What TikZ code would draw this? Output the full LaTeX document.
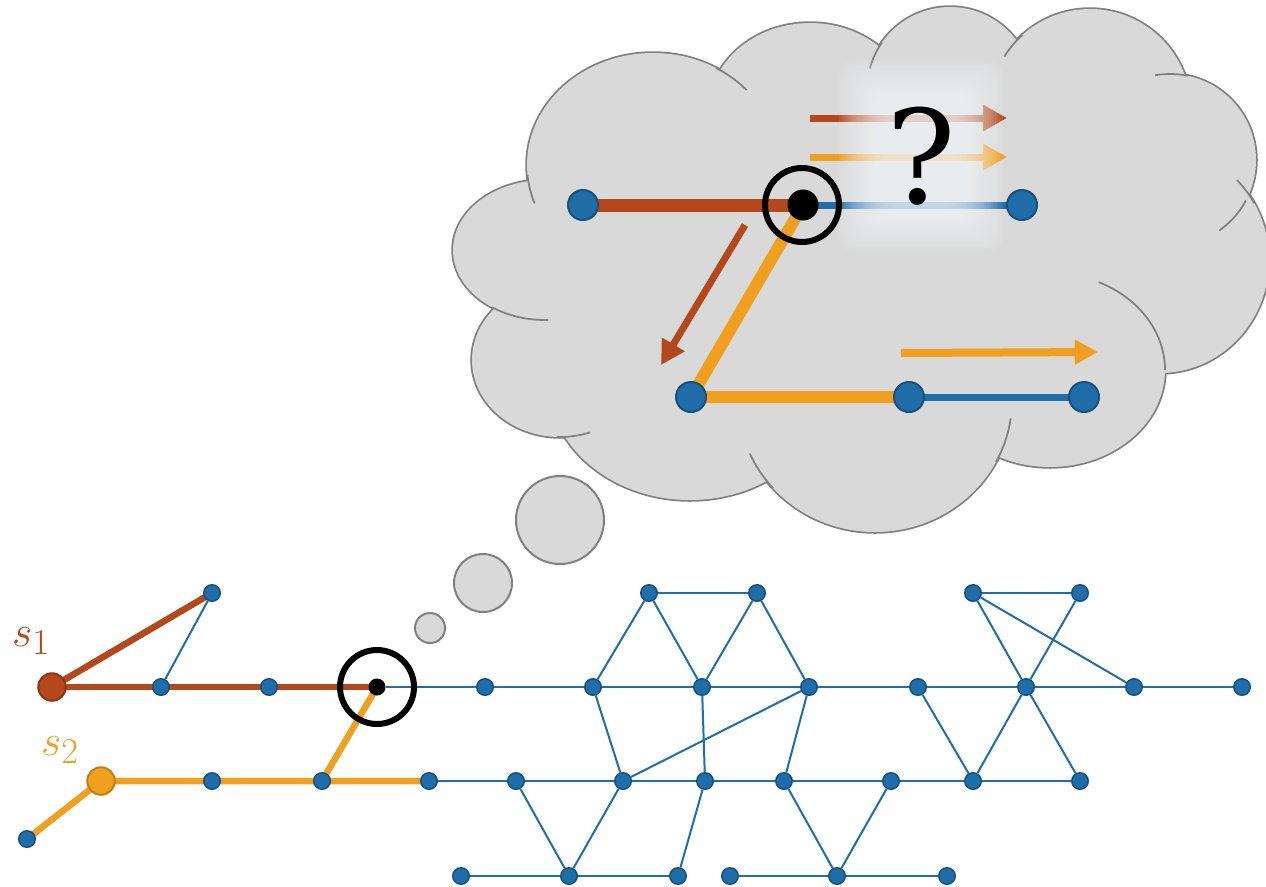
\documentclass[tikz,border=0pt]{standalone}
\usepackage{fontspec}
\newfontfamily\qfont{DejaVu Serif}
\usetikzlibrary{arrows.meta}
\definecolor{nblue}{HTML}{1F6EAA}
\definecolor{nedge}{HTML}{16507E}
\definecolor{redc}{HTML}{B5481A}
\definecolor{rededge}{HTML}{8C3512}
\definecolor{orc}{HTML}{F0A01E}
\definecolor{oredge}{HTML}{C27E14}
\definecolor{cloudc}{HTML}{D9D9D9}
\definecolor{cloudedge}{HTML}{808080}
\definecolor{glowc}{HTML}{F6F9FC}
\pgfdeclarelayer{cloudL}\pgfdeclarelayer{edgeL}\pgfdeclarelayer{glowL}
\pgfsetlayers{cloudL,edgeL,glowL,main}
\begin{document}
\begin{tikzpicture}[x=0.02cm,y=-0.02cm,
  vb/.style={circle, fill=nblue, draw=nedge, line width=0.03cm, minimum size=0.33cm, inner sep=0pt},
  vbig/.style={circle, fill=nblue, draw=nedge, line width=0.04cm, minimum size=0.6cm, inner sep=0pt},
  vred/.style={circle, fill=redc, draw=rededge, line width=0.04cm, minimum size=0.55cm, inner sep=0pt},
  vor/.style={circle, fill=orc, draw=oredge, line width=0.04cm, minimum size=0.55cm, inner sep=0pt},
  vblack/.style={circle, fill=black, minimum size=#1, inner sep=0pt},
  ring/.style={circle, draw=black, line width=0.12cm, minimum size=1.48cm, inner sep=0pt},
  thin/.style={nblue, line width=0.04cm},
  redpath/.style={redc, line width=0.13cm, line join=round},
  orpath/.style={orc, line width=0.13cm, line join=round},
  bubble/.style={fill=cloudc, draw=cloudedge, line width=0.04cm},
  crease/.style={cloudedge, line width=0.035cm},
]
\useasboundingbox (0,0) rectangle (1266,886);

% ---------------- bottom graph nodes
\node[vred] (s1) at (52,687) {};
\node[vor] (s2) at (101,781) {};
\node[vb] (a) at (212,593) {};
\node[vb] (b) at (161,687) {};
\node[vb] (c) at (269,687) {};
\node[vblack=0.34cm] (k) at (377,687) {};
\node[ring] (kr) at (377,687) {};
\node[vb] (d) at (27,839) {};
\node[vb] (e) at (212,781) {};
\node[vb] (f) at (322,781) {};
\node[vb] (g) at (429,781) {};
\node[vb] (n1) at (485,687) {};
\node[vb] (n2) at (593,687) {};
\node[vb] (n3) at (702,687) {};
\node[vb] (n4) at (809,687) {};
\node[vb] (n5) at (918,687) {};
\node[vb] (n6) at (1026,687) {};
\node[vb] (n7) at (1134,687) {};
\node[vb] (n8) at (1242,687) {};
\node[vb] (t1) at (649,593) {};
\node[vb] (t2) at (757,593) {};
\node[vb] (t3) at (973,593) {};
\node[vb] (t4) at (1080,593) {};
\node[vb] (m1) at (516,781) {};
\node[vb] (m2) at (623,781) {};
\node[vb] (m3) at (705,781) {};
\node[vb] (m4) at (784,781) {};
\node[vb] (m5) at (891,781) {};
\node[vb] (m6) at (973,781) {};
\node[vb] (m7) at (1080,781) {};
\node[vb] (u1) at (461,876) {};
\node[vb] (u2) at (569,876) {};
\node[vb] (u3) at (678,876) {};
\node[vb] (u4) at (730,876) {};
\node[vb] (u5) at (837,876) {};
\node[vb] (u6) at (947,876) {};

\node[text=redc, font=\fontsize{28}{32}\selectfont] (l1) at (31,641) {$s_1$};
\node[text=orc, font=\fontsize{28}{32}\selectfont] (l2) at (60,750) {$s_2$};

% ---------------- cloud nodes
\node[vbig] (cL) at (583,205) {};
\node[vblack=0.62cm] (cK) at (803,205) {};
\node[ring] (cKr) at (802,205) {};
\node[vbig] (cR) at (1022,205) {};
\node[vbig] (cA) at (691,397) {};
\node[vbig] (cB) at (909,397) {};
\node[vbig] (cC) at (1084,397) {};
\node[font=\qfont\fontsize{74}{76}\selectfont, inner sep=0pt] (q) at (921,156) {?};

\coordinate (fr1) at (810,118); \coordinate (fr2) at (1007,118);
\coordinate (fo1) at (810,157); \coordinate (fo2) at (1007,157);
\coordinate (ra1) at (745,225); \coordinate (ra2) at (661,365);
\coordinate (oa1) at (901,353); \coordinate (oa2) at (1098,352);

% ---------------- cloud shape
\begin{pgfonlayer}{cloudL}
\fill[white] (0,0) rectangle (1266,886);
\begin{scope}
\clip (0,0) rectangle (1266,886);
\foreach \cx/\cy/\rx/\ry in {545/250/92/70, 653/165/126/112, 810/110/101/87, 950/90/83/83, 1090/110/101/101, 1170/160/86/86, 1160/260/109/113, 1050/370/115/97, 875/400/137/132, 690/380/142/120, 560/360/88/77}
  \draw[cloudedge, line width=0.07cm] (\cx,\cy) ellipse[x radius=\rx, y radius=\ry];
\foreach \cx/\cy/\rx/\ry in {545/250/92/70, 653/165/126/112, 810/110/101/87, 950/90/83/83, 1090/110/101/101, 1170/160/86/86, 1160/260/109/113, 1050/370/115/97, 875/400/137/132, 690/380/142/120, 560/360/88/77, 850/260/300/170}
  \fill[cloudc] (\cx,\cy) ellipse[x radius=\rx, y radius=\ry];
\foreach \cx/\cy/\rx/\ry/\ta/\tb in {545/250/92/70/88/125, 653/165/126/112/160/175, 653/165/126/112/-60/-42, 950/90/83/83/-165/-145, 1090/110/101/101/-148/-132, 1170/160/86/86/-100/-78, 1170/160/86/86/28/55, 1160/260/109/113/-45/-30, 1050/370/115/97/-65/0, 875/400/137/132/8/28, 875/400/137/132/138/156, 560/360/88/77/70/92}
  \draw[crease] plot[domain=\ta:\tb, samples=25, variable=\t] ({\cx+\rx*cos(\t)},{\cy+\ry*sin(\t)});
\end{scope}
\draw[bubble] (430,628) circle[radius=15];
\draw[bubble] (483,583) circle[radius=29];
\draw[bubble] (560,520) circle[radius=44];
\end{pgfonlayer}

% ---------------- edges
\begin{pgfonlayer}{edgeL}
\draw[redpath] (s1.center) -- (a.center);
\draw[redpath] (s1.center) -- (b.center) -- (c.center) -- (k.center);
\draw[orpath] (d.center) -- (s2.center) -- (e.center) -- (f.center) -- (g.center);
\draw[orpath] (f.center) -- (k.center);
\foreach \u/\v in {a/b, k/n1, n1/n2, n2/n3, n3/n4, n4/n5, n5/n6, n6/n7, n7/n8,
  t1/t2, n2/t1, t1/n3, n3/t2, t2/n4, n2/m2, n3/m3, n4/m2, n4/m4,
  g/m1, m1/m2, m2/m3, m3/m4, m4/m5, m5/m6, m6/m7,
  m1/u2, m2/u2, m3/u3, m4/u5, m5/u5, u1/u2, u2/u3, u4/u5, u5/u6,
  t3/t4, t3/n6, t4/n6, t3/n7, n5/m6, n6/m6, n6/m7}
  \draw[thin] (\u) -- (\v);
% cloud edges
\draw[redc, line width=0.26cm] (cL.center) -- (cK.center);
\draw[nblue, line width=0.14cm] (cK.center) -- (cR.center);
\draw[orc, line width=0.24cm, line join=round] (cK.center) -- (cA.center) -- (cB.center);
\draw[nblue, line width=0.14cm] (cB.center) -- (cC.center);
\draw[redc, line width=0.14cm, -{Triangle[length=0.48cm,width=0.5cm]}] (fr1) -- (fr2);
\draw[orc, line width=0.14cm, -{Triangle[length=0.48cm,width=0.5cm]}] (fo1) -- (fo2);
\draw[redc, line width=0.14cm, -{Triangle[length=0.48cm,width=0.5cm]}] (ra1) -- (ra2);
\draw[orc, line width=0.16cm, -{Triangle[length=0.46cm,width=0.47cm]}] (oa1) -- (oa2);
\end{pgfonlayer}

% ---------------- glow
\begin{pgfonlayer}{glowL}
\foreach \i in {0,...,19} {
  \pgfmathsetmacro\hw{82-2.4*\i}
  \pgfmathsetmacro\hh{96-2.4*\i}
  \fill[glowc, fill opacity=0.075, rounded corners=0.3cm] ({921-\hw},{156-\hh}) rectangle ({921+\hw},{156+\hh});
}
\end{pgfonlayer}
\end{tikzpicture}
\end{document}
